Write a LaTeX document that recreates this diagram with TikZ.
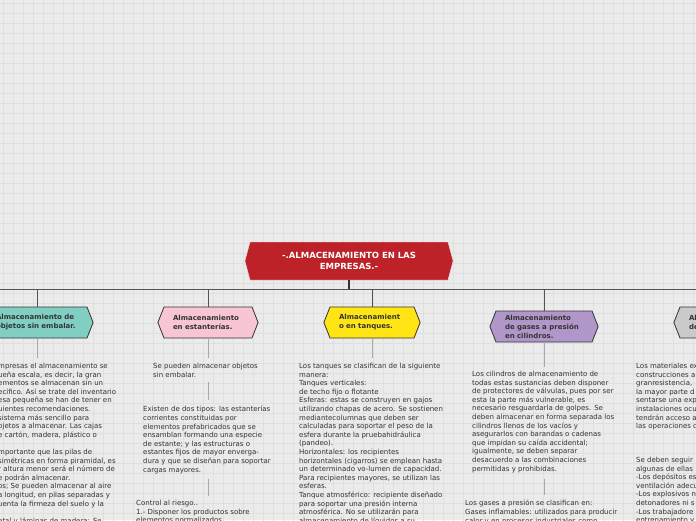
\documentclass[tikz,border=0pt]{standalone}
\usepackage{fontspec}
\setmainfont{DejaVu Sans}
\usepackage{tikz}
\usetikzlibrary{shapes.symbols}

\definecolor{canvas}{HTML}{EBEBEB}
\definecolor{gridgray}{HTML}{DFDFDF}
\definecolor{rootred}{HTML}{BC2228}
\definecolor{tealfill}{HTML}{80CFC2}
\definecolor{pinkfill}{HTML}{F8C6D3}
\definecolor{yellowfill}{HTML}{FFE514}
\definecolor{purplefill}{HTML}{B197C9}
\definecolor{grayfill}{HTML}{CACACA}
\definecolor{inkgray}{HTML}{333333}
\definecolor{stemgray}{HTML}{A8A8A8}

\begin{document}
\begin{tikzpicture}[%
    x=1pt, y=-1pt,
    topic/.style={%
        signal,
        signal to=west and east,
        signal pointer angle=150,
        draw=white!85!gray,
        fill=rootred,
        text=white,
        font=\fontsize{8.5}{11}\selectfont\bfseries,
        align=center,
        text width=160pt,
        inner xsep=19pt,
        minimum height=38pt
    },
    subtopic/.style={%
        signal,
        signal to=west and east,
        signal pointer angle=137,
        draw=inkgray,
        line width=0.8pt,
        text=inkgray,
        font=\fontsize{7}{9}\selectfont\bfseries,
        align=left,
        inner xsep=9pt,
        minimum height=31pt
    },
    notetext/.style={%
        anchor=north west,
        align=left,
        inner sep=0pt,
        text=inkgray,
        font=\fontsize{7}{8.6}\selectfont
    },
    gridline/.style={draw=gridgray, line width=0.6pt},
    busline/.style={draw=inkgray!85, line width=0.9pt},
    stemline/.style={draw=inkgray, line width=2pt},
    noteline/.style={draw=stemgray, line width=1pt}
]

% Canvas
    \useasboundingbox (0,0) rectangle (696,520);
    \fill[canvas] (0,0) rectangle (696,520);
    \clip (0,0) rectangle (696,520);
    \draw[gridline, shift={(3,3)}] (-10,-10) grid[step=10pt] (700,520);

% Root
    \node[topic] (root) at (349,261) {-.ALMACENAMIENTO EN LAS\\EMPRESAS.-};

% Branches
    \node[subtopic, fill=tealfill, text width=82pt] (objetos) at (37,322.5) {Almacenamiento de\\objetos sin embalar.};
    \node[subtopic, fill=pinkfill, text width=70pt] (estanterias) at (208,322.5) {Almacenamiento\\en estanterías.};
    \node[subtopic, fill=yellowfill, text width=66pt] (tanques) at (372,322.5) {Almacenamient\\o en tanques.};
    \node[subtopic, fill=purplefill, text width=78pt] (gases) at (544,326.5) {Almacenamiento\\de gases a presión\\en cilindros.};
    \node[subtopic, fill=grayfill, text width=80pt] (explosivos) at (729,322.5) {Al\\de};

% Notes
    \node[notetext] (objA) at (-2,363) {mpresas el almacenamiento se\\
        ueña escala, es decir, la gran\\
        ementos se almacenan sin un\\
        ecífico. Así se trate del inventario\\
        esa pequeña se han de tener en\\
        uientes recomendaciones.\\
        sistema más sencillo para\\
        bjetos a almacenar. Las cajas\\
        e cartón, madera, plástico o\\[8.6pt]
        mportante que las pilas de\\
        simétricas en forma piramidal, es\\
        r altura menor será el número de\\
        e podrán almacenar.\\
        os; Se pueden almacenar al aire\\
        a longitud, en pilas separadas y\\
        uenta la firmeza del suelo y la\\[8.6pt]
        etal y láminas de madera: Se};

    \node[notetext] (estA) at (153,363) {Se pueden almacenar objetos\\sin embalar.};
    \node[notetext] (estB) at (143,406) {Existen de dos tipos: las estanterías\\
        corrientes constituidas por\\
        elementos prefabricados que se\\
        ensamblan formando una especie\\
        de estante; y las estructuras o\\
        estantes fijos de mayor enverga-\\
        dura y que se diseñan para soportar\\
        cargas mayores.};
    \node[notetext] (estC) at (136,500) {Control al riesgo..\\
        1.- Disponer los productos sobre\\
        elementos normalizados};

    \node[notetext] (tanA) at (299,363) {Los tanques se clasifican de la siguiente\\
        manera:\\
        Tanques verticales:\\
        de techo fijo o flotante\\
        Esferas: estas se construyen en gajos\\
        utilizando chapas de acero. Se sostienen\\
        mediantecolumnas que deben ser\\
        calculadas para soportar el peso de la\\
        esfera durante la pruebahidráulica\\
        (pandeo).\\
        Horizontales: los recipientes\\
        horizontales (cigarros) se emplean hasta\\
        un determinado vo-lumen de capacidad.\\
        Para recipientes mayores, se utilizan las\\
        esferas.\\
        Tanque atmosférico: recipiente diseñado\\
        para soportar una presión interna\\
        atmosférica. No se utilizarán para\\
        almacenamiento de líquidos a su};

    \node[notetext] (gasA) at (472,371) {Los cilindros de almacenamiento de\\
        todas estas sustancias deben disponer\\
        de protectores de válvulas, pues por ser\\
        esta la parte más vulnerable, es\\
        necesario resguardarla de golpes. Se\\
        deben almacenar en forma separada los\\
        cilindros llenos de los vacíos y\\
        asegurarlos con barandas o cadenas\\
        que impidan su caída accidental;\\
        igualmente, se deben separar\\
        desacuerdo a las combinaciones\\
        permitidas y prohibidas.};
    \node[notetext] (gasB) at (465,500) {Los gases a presión se clasifican en:\\
        Gases inflamables: utilizados para producir\\
        calor y en procesos industriales como};

    \node[notetext] (expA) at (636,363) {Los materiales exp\\
        construcciones a\\
        granresistencia,\\
        la mayor parte d\\
        sentarse una exp\\
        instalaciones ocu\\
        tendrán acceso a\\
        las operaciones c};
    \node[notetext] (expB) at (636,457) {Se deben seguir\\
        algunas de ellas\\
        -Los depósitos es\\
        ventilación adecu\\
        -Los explosivos n\\
        detonadores ni s\\
        -Los trabajadore\\
        entrenamiento y};

% Connectors
    \coordinate (hub) at (349,289);
    \coordinate (busW) at (-20,289);
    \draw[busline] (hub) -- (busW);
    \draw[busline] (hub) -| (objetos.north);
    \draw[busline] (hub) -| (estanterias.north);
    \draw[busline] (hub) -| (tanques.north);
    \draw[busline] (hub) -| (gases.north);
    \draw[busline] (hub) -| (explosivos.north);
    \draw[stemline] (root.south) -- (hub);

    \draw[noteline, shorten >=5pt] (objetos.south) -- (objetos |- objA.north);
    \draw[noteline, shorten >=5pt] (estanterias.south) -- (estanterias |- estA.north);
    \draw[noteline, shorten <=5pt, shorten >=6pt] (estanterias |- estA.south) -- (estanterias |- estB.north);
    \draw[noteline, shorten <=5pt, shorten >=4pt] (estanterias |- estB.south) -- (estanterias |- estC.north);
    \draw[noteline, shorten >=5pt] (tanques.south) -- (tanques |- tanA.north);
    \draw[noteline, shorten >=4pt] (gases.south) -- (gases |- gasA.north);
    \draw[noteline, shorten <=6pt, shorten >=5pt] (gases |- gasA.south) -- (gases |- gasB.north);
    \draw[noteline, shorten >=5pt] (explosivos.south) -- (explosivos |- expA.north);
    \draw[noteline, shorten <=6pt, shorten >=5pt] (explosivos |- expA.south) -- (explosivos |- expB.north);

\end{tikzpicture}
\end{document}
